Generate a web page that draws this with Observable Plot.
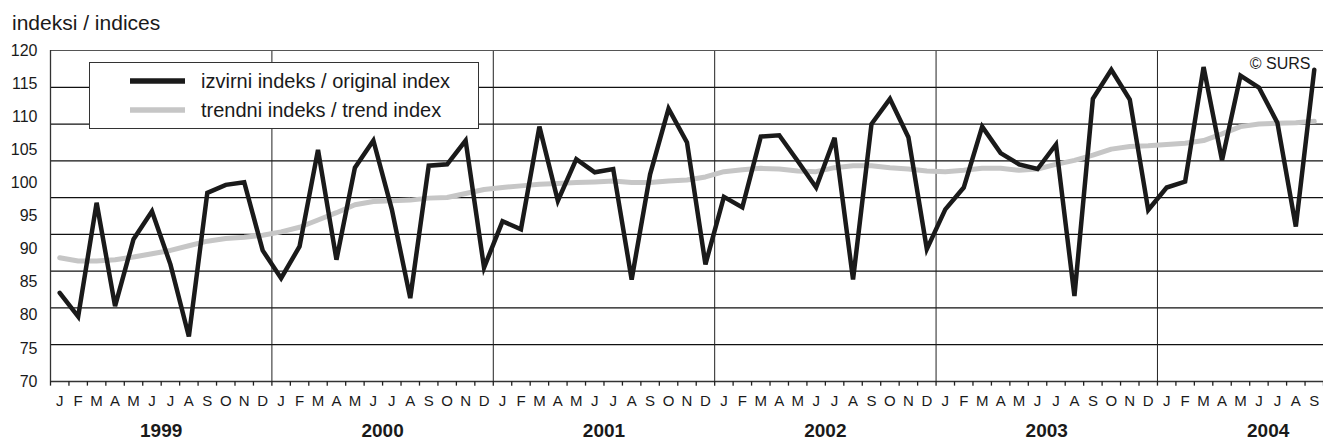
<!DOCTYPE html>
<html>
<head>
<meta charset="utf-8">
<script src="https://cdn.jsdelivr.net/npm/d3@7"></script>
<script src="https://cdn.jsdelivr.net/npm/@observablehq/plot@0.6"></script>
<style>
  body { margin: 0; background: #fff; font-family: "Liberation Sans", Arial, sans-serif; color: #1a1a1a; }
  #wrap { position: relative; width: 1323px; height: 442px; overflow: hidden; }
  #title { position: absolute; left: 12px; top: 10px; font-size: 21px; line-height: 26px; }
  #chart { position: absolute; left: 0; top: 40px; }
  #legend { position: absolute; left: 89px; top: 62px; width: 388px; height: 65px; border: 1px solid #333; background: #fff; }
  .row { position: absolute; left: 0; height: 24px; font-size: 20px; line-height: 24px; white-space: nowrap; }
  .row svg { position: absolute; left: 40px; top: 0; }
  .row span { position: absolute; left: 111px; top: 0; }
</style>
</head>
<body>
<div id="wrap">
  <div id="title">indeksi / indices</div>
  <div id="chart"></div>
  <div id="legend"></div>
</div>
<script>
const years = [1999, 2000, 2001, 2002, 2003, 2004];
const monthLabels = ["J","F","M","A","M","J","J","A","S","O","N","D"];
const original = [
  83.4, 79.8, 97.0, 81.4, 91.5, 95.7, 87.7, 76.8, 98.5, 99.7, 100.1, 89.8,
  85.6, 90.4, 105.0, 88.4, 102.3, 106.4, 96.0, 82.6, 102.6, 102.8, 106.4, 87.2,
  94.2, 93.0, 108.5, 97.3, 103.6, 101.6, 102.1, 85.4, 101.3, 111.2, 106.1, 87.7,
  97.9, 96.3, 107.0, 107.2, 103.3, 99.3, 106.8, 85.4, 108.9, 112.7, 106.9, 90.0,
  96.0, 99.3, 108.5, 104.5, 102.8, 102.1, 105.8, 82.9, 112.7, 117.1, 112.6, 95.9,
  99.3, 100.2, 117.5, 103.4, 116.2, 114.4, 109.1, 93.4, 117.1
];
const trend = [
  88.7, 88.2, 88.2, 88.4, 88.8, 89.3, 89.8, 90.5, 91.2, 91.6, 91.8, 92.1,
  92.6, 93.3, 94.4, 95.5, 96.7, 97.2, 97.3, 97.4, 97.7, 97.8, 98.4, 99.0,
  99.3, 99.55, 99.8, 99.9, 100.05, 100.15, 100.3, 100.05, 100.05, 100.3, 100.45, 100.9,
  101.7, 102.0, 102.2, 102.1, 101.8, 101.7, 102.3, 102.6, 102.6, 102.3, 102.1, 101.8,
  101.7, 101.9, 102.2, 102.2, 101.9, 102.1, 102.8, 103.4, 104.2, 105.1, 105.5, 105.6,
  105.8, 106.0, 106.4, 107.4, 108.5, 108.9, 109.0, 109.1, 109.3
];
const yTicks = [70, 75, 80, 85, 90, 95, 100, 105, 110, 115, 120];
const gridLevels = [114.44, 108.89, 103.33, 97.78, 92.22, 86.67, 81.11, 75.56];
const seriesNames = ["izvirni indeks / original index", "trendni indeks / trend index"];
const seriesColors = ["#1a1a1a", "#c6c6c6"];
const copyright = "© SURS";

const data = original.map((v, i) => ({i, original: v, trend: trend[i]}));
const n = original.length;
const monthIdx = d3.range(n);
const boundaries = d3.range(n + 1).map(k => k - 0.5);
const yearBoundaries = years.slice(1).map((y, k) => (k + 1) * 12 - 0.5);
const yearCenters = years.map((y, k) => ({x: k * 12 + 5.5, label: String(y)}));

const sans = "'Liberation Sans', Arial, sans-serif";
const narrow = "'Liberation Sans Narrow', 'Arial Narrow', 'Liberation Sans', sans-serif";

const chart = Plot.plot({
  width: 1323,
  height: 402,
  marginLeft: 50,
  marginRight: 0,
  marginTop: 10,
  marginBottom: 61,
  x: {type: "linear", domain: [-0.5, n - 0.5], axis: null},
  y: {type: "linear", domain: [70, 120], axis: null},
  style: {fontFamily: sans, color: "#1a1a1a", background: "transparent", overflow: "visible"},
  marks: [
    Plot.ruleY(gridLevels, {stroke: "#111", strokeWidth: 1.3}),
    Plot.ruleX(yearBoundaries, {y1: 70, y2: 120, stroke: "#222", strokeWidth: 1}),
    Plot.ruleY([120], {stroke: "#555", strokeWidth: 1.2}),
    Plot.ruleX([-0.5], {y1: 70, y2: 120, stroke: "#333", strokeWidth: 1.3}),
    Plot.line(data, {x: "i", y: "trend", stroke: seriesColors[1], strokeWidth: 5}),
    Plot.line(data, {x: "i", y: "original", stroke: seriesColors[0], strokeWidth: 4.5, strokeLinejoin: "miter", strokeMiterlimit: 4}),
    Plot.ruleY([70], {stroke: "#333", strokeWidth: 1.5}),
    Plot.ruleX(boundaries, {y1: 70, y2: 69.3, stroke: "#222", strokeWidth: 1.3}),
    Plot.text(monthIdx, {x: d => d, text: i => monthLabels[i % 12], frameAnchor: "bottom", lineAnchor: "middle", dy: 20, fontSize: 15, fontFamily: narrow, fill: "#1a1a1a"}),
    Plot.text(yearCenters, {x: "x", text: "label", frameAnchor: "bottom", lineAnchor: "middle", dy: 49, fontSize: 19, fontWeight: "bold", fill: "#1a1a1a"}),
    Plot.text(yTicks, {y: d => d, text: d => String(d), frameAnchor: "left", dx: -13, textAnchor: "end", fontSize: 16, fill: "#1a1a1a"}),
    Plot.text([copyright], {frameAnchor: "top-right", dx: -13, dy: 13, fontSize: 16, textAnchor: "end", lineAnchor: "middle", fill: "#1a1a1a"})
  ]
});
document.getElementById("chart").appendChild(chart);

const legend = document.getElementById("legend");
seriesNames.forEach((name, k) => {
  const row = document.createElement("div");
  row.className = "row";
  row.style.top = (k === 0 ? 6 : 35) + "px";
  row.innerHTML = `<svg width="56" height="24"><line x1="0" x2="55" y1="12" y2="12" stroke="${seriesColors[k]}" stroke-width="5.5"/></svg><span>${name}</span>`;
  legend.appendChild(row);
});
</script>
</body>
</html>
